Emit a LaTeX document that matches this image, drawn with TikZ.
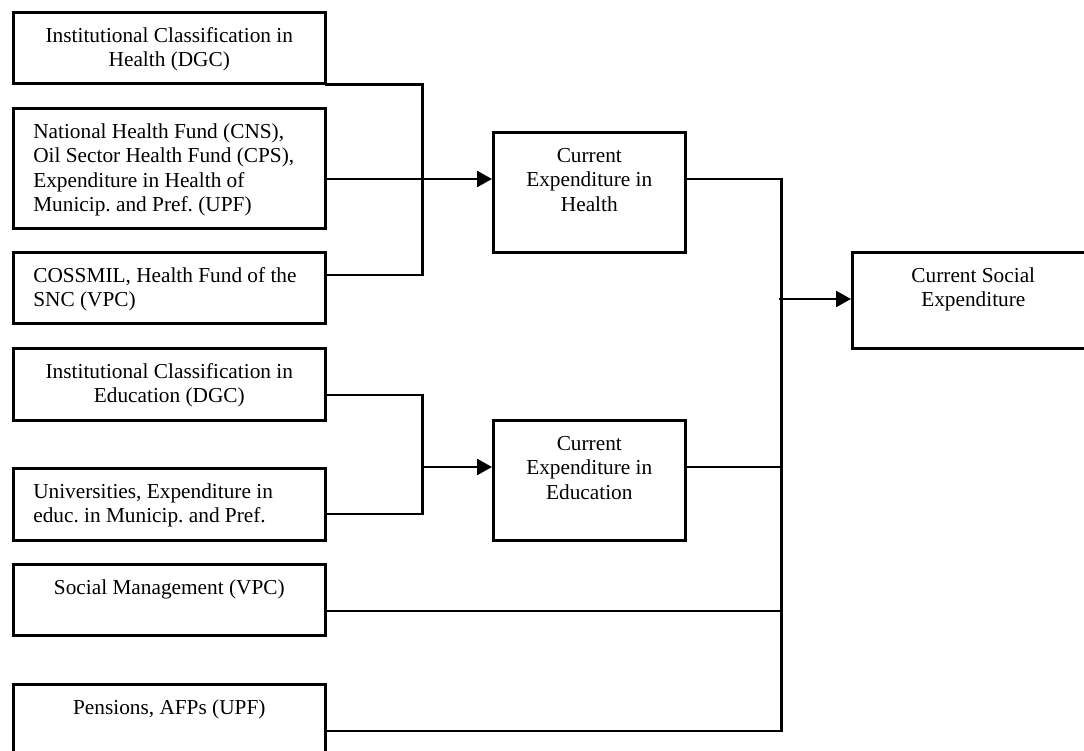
\documentclass[tikz,border=0pt]{standalone}
\usepackage{fontspec}
\setmainfont{Liberation Serif}
\usetikzlibrary{arrows.meta,calc}
\frenchspacing
\newcommand{\ctxt}[3]{\parbox[c][#2pt][t]{#1pt}{\centering\vspace*{13pt}\strut #3}}
\newcommand{\ltxt}[3]{\parbox[c][#2pt][t]{#1pt}{\raggedright\leftskip=20pt\vspace*{13pt}\strut #3}}
\begin{document}
\begin{tikzpicture}[x=1pt,y=-1pt,
  box/.style={draw,line width=2.6pt,inner sep=0pt,anchor=north west,
    font=\fontsize{21.3}{24.5}\selectfont\frenchspacing},
  conn/.style={line width=2.3pt,line cap=rect},
  arr/.style={line width=2.5pt,-{Triangle[length=15pt,width=16pt]}}]
\useasboundingbox (0,0) rectangle (1084,751);
\clip (0,0) rectangle (1084,751);
\fill[white] (0,0) rectangle (1084,751);
% left boxes
\node[box] (b1) at (12,11)  {\ctxt{312}{71}{Institutional Classification in\\Health (DGC)}};
\node[box] (b2) at (12,107) {\ltxt{312}{120}{National Health Fund (CNS),\\Oil Sector Health Fund (CPS),\\Expenditure in Health of\\Municip. and Pref. (UPF)}};
\node[box] (b3) at (12,251) {\ltxt{312}{71}{COSSMIL, Health Fund of the\\SNC (VPC)}};
\node[box] (b4) at (12,347) {\ctxt{312}{72}{Institutional Classification in\\Education (DGC)}};
\node[box] (b5) at (12,467) {\ltxt{312}{72}{Universities, Expenditure in\\educ. in Municip. and Pref.}};
\node[box] (b6) at (12,563) {\ctxt{312}{71}{Social Management (VPC)}};
\node[box] (b7) at (12,683) {\ctxt{312}{74}{Pensions, AFPs (UPF)}};
% middle boxes
\node[box] (cH) at (492,131) {\ctxt{192}{120}{Current\\Expenditure in\\Health}};
\node[box] (cE) at (492,419) {\ctxt{192}{120}{Current\\Expenditure in\\Education}};
% right box
\node[box] (cS) at (851,251) {\ctxt{242}{96}{Current Social\\Expenditure}};
% health connectors
\draw[conn] (b1.south east) -| ($(b3.north east)+(96,24)$) -- ($(b3.north east)+(0,24)$);
\draw[arr] ($(b2.north east)+(0,72)$) -- ($(cH.north west)+(0,48)$);
% education connectors
\draw[conn] ($(b4.north east)+(0,48)$) -| ($(b5.north east)+(96,47)$) -- ($(b5.north east)+(0,47)$);
\draw[arr] ($(b5.north east)+(96,0)$) -- ($(cE.north west)+(0,48)$);
% social connectors
\draw[conn] ($(cH.north east)+(0,48)$) -| ($(b7.north east)+(455,48)$) -- ($(b7.north east)+(0,48)$);
\draw[conn] ($(cE.north east)+(0,48)$) -- ($(cE.north east)+(95,48)$);
\draw[conn] ($(b6.north east)+(0,48)$) -- ($(b6.north east)+(455,48)$);
\draw[arr] ($(cS.north west)+(-72,48)$) -- ($(cS.north west)+(0,48)$);
\end{tikzpicture}
\end{document}
